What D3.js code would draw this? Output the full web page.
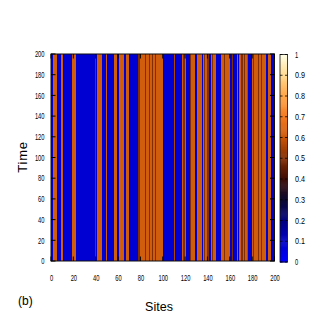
<!DOCTYPE html>
<html><head><meta charset="utf-8">
<script src="https://cdn.jsdelivr.net/npm/d3@7"></script>
<style>body{margin:0;background:#fff}svg{display:block}</style>
</head><body><div id="c"></div>
<script>
// ---- data ----
const B = 0.08, O = 0.62, D = 0.5, M = 0.56;
// one value per site (0..199); constant over time
const siteValues = [
 B,B,O,O,O,B,B,B,B,O, O,B,B,B,B,B,B,B,B,O, O,O,B,B,B,B,B,B,B,B,
 B,B,B,B,B,B,B,B,B,D, B,O,O,O,O,O,B,B,B,O, B,B,B,B,B,B,O,O,O,B,
 B,O,O,O,O,B,B,O,O,O, B,B,B,B,B,B,B,B,D,D, O,O,O,O,D,O,O,O,D,O,
 D,O,O,D,O,O,O,O,O,O, B,B,B,B,B,B,B,B,B,B, M,B,B,B,B,B,B,O,D,D,
 O,B,B,B,D,O,O,O,O,B, B,O,O,O,O,B,O,D,O,O, D,B,B,O,D,O,O,O,B,B,
 B,B,O,O,O,D,O,O,O,O, B,B,D,B,B,B,O,B,O,O, D,D,O,D,O,M,B,B,B,B,
 O,D,O,O,O,D,O,O,D,O, O,O,B,B,O,O,O,B,B,B
];
const sites = d3.range(siteValues.length);
const timeDomain = [0, 200];
const xTicks = [0,20,40,60,80,100,120,140,160,180,200];
const yTicks = [0,20,40,60,80,100,120,140,160,180,200];
const cbTicks = [0,0.1,0.2,0.3,0.4,0.5,0.6,0.7,0.8,0.9,1];
const cbLabels = ["0","0.1","0.2","0.3","0.4","0.5","0.6","0.7","0.8","0.9","1"];
const paletteStops = [0,0.1,0.2,0.3,0.4,0.5,0.6,0.7,0.8,0.9,1];
const paletteColors = ["#0000ff","#0000c8","#000080","#0c0a30","#3c0c06","#822e04","#c85508","#f27a22","#ffa548","#ffd88c","#ffffe6"];

// ---- layout ----
const W = 327, H = 327;
const L = 51, R = 274.5, T = 54, Bm = 261;
const svg = d3.select("#c").append("svg").attr("width", W).attr("height", H);

const x = d3.scaleLinear().domain([0, 200]).range([L, R]);
const y = d3.scaleLinear().domain(timeDomain).range([Bm, T]);
const color = d3.scaleLinear().domain(paletteStops).range(paletteColors).interpolate(d3.interpolateRgb).clamp(true);

// columns
svg.append("g").selectAll("rect").data(sites).join("rect")
  .attr("x", d => x(d))
  .attr("width", d => x(d + 1) - x(d) + 0.3)
  .attr("y", y(timeDomain[1]))
  .attr("height", y(timeDomain[0]) - y(timeDomain[1]))
  .attr("fill", d => color(siteValues[d]))
  .attr("shape-rendering", "crispEdges");

// frame
svg.append("rect").attr("x", L).attr("y", T).attr("width", R - L).attr("height", Bm - T)
  .attr("fill", "none").attr("stroke", "#111").attr("stroke-width", 1);

// inward ticks on all sides
const tk = 4.5;
const tg = svg.append("g").attr("stroke", "#000").attr("stroke-width", 1);
xTicks.forEach(v => {
  tg.append("line").attr("x1", x(v)).attr("x2", x(v)).attr("y1", Bm).attr("y2", Bm - tk);
  tg.append("line").attr("x1", x(v)).attr("x2", x(v)).attr("y1", T).attr("y2", T + tk);
});
yTicks.forEach(v => {
  tg.append("line").attr("x1", L).attr("x2", L + tk).attr("y1", y(v)).attr("y2", y(v));
  tg.append("line").attr("x1", R).attr("x2", R - tk).attr("y1", y(v)).attr("y2", y(v));
});

const tickFont = "'Liberation Sans', Arial, sans-serif";
function narrow(sel, s) {
  sel.attr("textLength", s.length * 3.2).attr("lengthAdjust", "spacingAndGlyphs");
}
// x tick labels
xTicks.forEach(v => {
  const s = String(v);
  const t = svg.append("text").attr("x", x(v) + 0.5).attr("y", 280.5).attr("text-anchor", "middle")
    .attr("font-family", tickFont).attr("font-size", 9).attr("fill", "#000").text(s);
  narrow(t, s);
});
// y tick labels
yTicks.forEach(v => {
  const s = String(v);
  const t = svg.append("text").attr("x", 44.5).attr("y", y(v) + 3.2).attr("text-anchor", "end")
    .attr("font-family", tickFont).attr("font-size", 9).attr("fill", "#000").text(s);
  narrow(t, s);
});

// axis titles
svg.append("text").attr("x", 159).attr("y", 311).attr("text-anchor", "middle")
  .attr("font-family", tickFont).attr("font-size", 12.5).attr("fill", "#000").text("Sites");
svg.append("text").attr("transform", "translate(27,157) rotate(-90)").attr("text-anchor", "middle")
  .attr("font-family", tickFont).attr("font-size", 13).attr("letter-spacing", 0.8).attr("fill", "#000").text("Time");
svg.append("text").attr("x", 18).attr("y", 305)
  .attr("font-family", tickFont).attr("font-size", 12).attr("fill", "#000").text("(b)");

// colorbar
const cbX = 280, cbW = 7.5, cbT = 54.5, cbB = 262;
const cy = d3.scaleLinear().domain([0, 1]).range([cbB, cbT]);
const steps = d3.range(0, 1, 0.005);
svg.append("g").selectAll("rect").data(steps).join("rect")
  .attr("x", cbX).attr("width", cbW)
  .attr("y", d => cy(d + 0.005)).attr("height", d => cy(d) - cy(d + 0.005) + 0.5)
  .attr("fill", d => color(d + 0.0025));
svg.append("rect").attr("x", cbX).attr("y", cbT).attr("width", cbW).attr("height", cbB - cbT)
  .attr("fill", "none").attr("stroke", "#111").attr("stroke-width", 0.8);
const cg = svg.append("g").attr("stroke", "#000").attr("stroke-width", 0.8);
cbTicks.forEach(v => {
  cg.append("line").attr("x1", cbX).attr("x2", cbX + 2.5).attr("y1", cy(v)).attr("y2", cy(v));
  cg.append("line").attr("x1", cbX + cbW).attr("x2", cbX + cbW - 2.5).attr("y1", cy(v)).attr("y2", cy(v));
});
cbTicks.forEach((v, i) => {
  const s = cbLabels[i];
  const t = svg.append("text").attr("x", 295).attr("y", cy(v) + 3.2)
    .attr("font-family", tickFont).attr("font-size", 9).attr("fill", "#000").text(s);
  t.attr("textLength", s.length === 1 ? 3.2 : 10).attr("lengthAdjust", "spacingAndGlyphs");
});
</script>
</body></html>
